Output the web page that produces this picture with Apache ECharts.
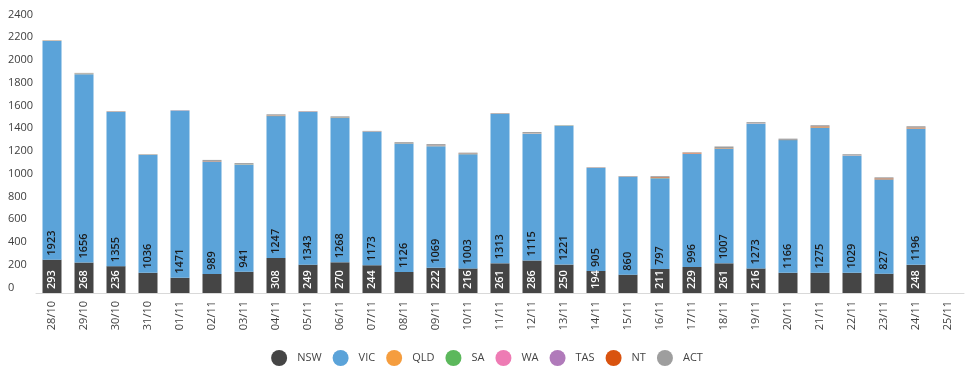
<!DOCTYPE html>
<html>
<head>
<meta charset="utf-8">
<script src="https://cdn.jsdelivr.net/npm/echarts@6/dist/echarts.min.js"></script>
<style>
  html, body { margin: 0; padding: 0; background: #fff; }
  #chart { width: 974px; height: 378px; }
</style>
</head>
<body>
<div id="chart"></div>
<script>
// data
var dates = ["28/10", "29/10", "30/10", "31/10", "01/11", "02/11", "03/11", "04/11", "05/11", "06/11",
    "07/11", "08/11", "09/11", "10/11", "11/11", "12/11", "13/11", "14/11", "15/11", "16/11",
    "17/11", "18/11", "19/11", "20/11", "21/11", "22/11", "23/11", "24/11", "25/11"];
var nsw = [293, 268, 236, 178, 134, 167, 187, 308, 249, 270, 244, 185, 222, 216, 261, 286, 250, 194, 161, 211,
    229, 261, 216, 178, 178, 178, 170, 248, null];
var vic = [1923, 1656, 1355, 1036, 1471, 989, 941, 1247, 1343, 1268, 1173, 1126, 1069, 1003, 1313, 1115, 1221, 905, 860, 797,
    996, 1007, 1273, 1166, 1275, 1029, 827, 1196, null];
var qld = [2, 3, 2, 1, 1, 2, 1, 2, 1, 2, 1, 1, 2, 1, 1, 2, 1, 1, 1, 2, 1, 2, 1, 1, 2, 1, 1, 2, null];
var sa = [1, 1, 0, 1, 0, 0, 1, 1, 0, 1, 0, 1, 0, 1, 0, 0, 1, 0, 0, 1, 0, 1, 0, 0, 1, 0, 1, 1, null];
var wa = [1, 0, 1, 0, 1, 0, 0, 1, 1, 0, 1, 0, 1, 0, 1, 0, 0, 1, 0, 0, 1, 0, 1, 0, 0, 1, 0, 1, null];
var tas = [0, 1, 0, 1, 0, 1, 0, 0, 1, 0, 0, 1, 0, 1, 0, 1, 0, 0, 1, 0, 0, 1, 0, 1, 0, 0, 1, 0, null];
var nt = [0, 0, 0, 0, 0, 2, 0, 2, 0, 1, 0, 0, 1, 3, 0, 0, 0, 0, 0, 6, 6, 2, 0, 0, 8, 0, 7, 6, null];
var act = [3, 6, 5, 4, 1, 9, 12, 10, 5, 11, 6, 12, 14, 9, 6, 11, 3, 5, 5, 10, 4, 14, 11, 11, 11, 11, 10, 12, null];
var yTicks = [0, 200, 400, 600, 800, 1000, 1200, 1400, 1600, 1800, 2000, 2200, 2400];

var names = ["NSW", "VIC", "QLD", "SA", "WA", "TAS", "NT", "ACT"];
var colors = ["#454545", "#5ba3d9", "#f59d3e", "#5cb85c", "#ee7bb4", "#b07aba", "#d9530f", "#9e9e9e"];
var values = [nsw, vic, qld, sa, wa, tas, nt, act];

var chart = echarts.init(document.getElementById("chart"));

var series = names.map(function (name, i) {
    var s = {
        name: name,
        type: "bar",
        stack: "total",
        barWidth: 19,
        itemStyle: { color: colors[i] },
        data: values[i]
    };
    if (i < 2) {
        s.label = {
            show: true,
            position: "insideBottom",
            distance: 4,
            rotate: 90,
            align: "left",
            verticalAlign: "middle",
            fontFamily: "Open Sans",
            fontSize: 11,
            fontWeight: 600,
            color: i === 0 ? "#ffffff" : "#1a1a1a",
            formatter: function (p) {
                if (p.value == null) return "";
                if (i === 0 && p.value < 190) return "";
                return p.value;
            }
        };
    }
    return s;
});

chart.setOption({
    animation: false,
    textStyle: { fontFamily: "Open Sans" },
    grid: { left: 36, right: 10, top: 20, bottom: 85 },
    legend: {
        bottom: 7,
        left: "center",
        icon: "circle",
        itemWidth: 16,
        itemHeight: 16,
        itemGap: 11,
        textStyle: { fontFamily: "Open Sans", fontSize: 11, color: "#444", padding: [0, 0, 0, 5] },
        data: names
    },
    xAxis: {
        type: "category",
        data: dates,
        axisLine: { lineStyle: { color: "#d9d9d9" } },
        axisTick: { show: false },
        axisLabel: { rotate: 90, interval: 0, fontSize: 11, color: "#404040", margin: 8 }
    },
    yAxis: {
        type: "value",
        min: yTicks[0],
        max: yTicks[yTicks.length - 1],
        interval: 200,
        splitLine: { show: false },
        axisLine: { show: false },
        axisTick: { show: false },
        axisLabel: {
            fontSize: 11,
            color: "#404040",
            align: "left",
            margin: 28,
            verticalAlign: "bottom",
            formatter: function (v) { return String(v); }
        }
    },
    series: series
});
</script>
</body>
</html>
